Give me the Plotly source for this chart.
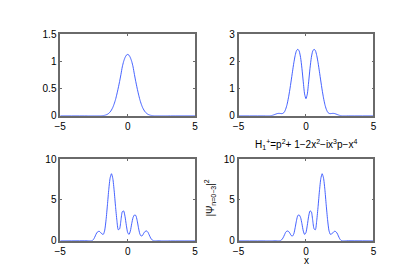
import plotly.graph_objects as go

# sample grid (x) for the four probability densities: -5, then -3.0 .. 3.0 by 0.1, then 5
x_dense = [round(-3.0 + 0.1 * i, 1) for i in range(61)]
x_vals = [-5.0] + x_dense + [5.0]

# |psi_0|^2
psi0 = [0.0,
        0.0, 0.0, 0.0, 0.0, 0.0, 0.0, 0.0, 0.0, 0.0, 0.0,            # -3.0 .. -2.1
        0.0, 0.002, 0.005, 0.009, 0.016, 0.028, 0.046, 0.071, 0.107, 0.155,  # -2.0 .. -1.1
        0.22, 0.3, 0.4, 0.51, 0.63, 0.76, 0.9, 1.0, 1.07, 1.115,   # -1.0 .. -0.1
        1.13,                                                        # 0
        1.115, 1.07, 1.0, 0.9, 0.76, 0.63, 0.51, 0.4, 0.3, 0.22,   # 0.1 .. 1.0
        0.155, 0.107, 0.071, 0.046, 0.028, 0.016, 0.009, 0.005, 0.002, 0.0,  # 1.1 .. 2.0
        0.0, 0.0, 0.0, 0.0, 0.0, 0.0, 0.0, 0.0, 0.0, 0.0,            # 2.1 .. 3.0
        0.0]

# |psi_1|^2
psi1 = [0.0,
        0.0, 0.0, 0.0, 0.0, 0.005, 0.015, 0.03, 0.05, 0.07, 0.085,
        0.09, 0.085, 0.08, 0.09, 0.14, 0.25, 0.42, 0.66, 0.95, 1.28,
        1.62, 1.95, 2.22, 2.4, 2.45, 2.38, 2.15, 1.75, 1.25, 0.8,
        0.63,
        0.8, 1.25, 1.75, 2.15, 2.38, 2.45, 2.4, 2.22, 1.95, 1.62,
        1.28, 0.95, 0.66, 0.42, 0.25, 0.14, 0.09, 0.08, 0.085, 0.09,
        0.085, 0.07, 0.05, 0.03, 0.015, 0.005, 0.0, 0.0, 0.0, 0.0,
        0.0]

# |psi_2|^2
psi2 = [0.0,
        0.02, 0.01, 0.0, 0.0, 0.05, 0.25, 0.6, 0.95, 1.13, 1.15,
        1.0, 0.82, 0.8, 1.3, 2.6, 4.4, 6.3, 7.7, 8.2, 7.6,
        6.1, 4.2, 2.5, 1.35, 1.45, 2.5, 3.55, 3.65, 3.0, 1.9,
        1.0,
        0.78, 1.2, 2.1, 2.85, 3.15, 3.1, 2.5, 1.6, 0.85, 0.58,
        0.65, 0.95, 1.15, 1.2, 1.05, 0.7, 0.35, 0.12, 0.02, 0.0,
        0.0, 0.02, 0.03, 0.02, 0.0, 0.0, 0.0, 0.0, 0.0, 0.0,
        0.0]

# |psi_3|^2
psi3 = [0.0,
        0.0, 0.0, 0.0, 0.0, 0.0, 0.0, 0.02, 0.03, 0.02, 0.0,
        0.0, 0.02, 0.12, 0.35, 0.7, 1.05, 1.2, 1.15, 0.95, 0.65,
        0.58, 0.85, 1.6, 2.5, 3.1, 3.15, 2.85, 2.1, 1.2, 0.78,
        1.0,
        1.9, 3.0, 3.65, 3.55, 2.5, 1.45, 1.35, 2.5, 4.2, 6.1,
        7.6, 8.2, 7.7, 6.3, 4.4, 2.6, 1.3, 0.8, 0.82, 1.0,
        1.15, 1.13, 0.95, 0.6, 0.25, 0.05, 0.0, 0.0, 0.01, 0.02,
        0.0]

series = [psi0, psi1, psi2, psi3]
y_ranges = [[0, 1.5], [0, 3], [0, 10], [0, 10]]
y_ticks = [[0, 0.5, 1, 1.5], [0, 1, 2, 3], [0, 5, 10], [0, 5, 10]]
y_ticklabels = [["0", "0.5", "1", "1.5"], ["0", "1", "2", "3"], ["0", "5", "10"], ["0", "5", "10"]]
x_ticks = [-5, 0, 5]
x_ticklabels = ["−5", "0", "5"]

# page body has an 8px default margin: draw a figure that fits inside it
OFF = 8
W, H = 415 - 2 * OFF, 277 - 2 * OFF
col_px = [(55.3 - OFF, 193.3 - OFF), (237.7 - OFF, 375.7 - OFF)]
row_px = [(29.3 - OFF, 114.7 - OFF), (160 - OFF, 245.7 - OFF)]

fig = go.Figure()
font = dict(family="Liberation Sans, Arial, sans-serif", size=10, color="black")

for i, ys in enumerate(series):
    r, c = divmod(i, 2)
    n = "" if i == 0 else str(i + 1)
    xa, ya = "x" + n, "y" + n
    fig.add_trace(go.Scatter(x=x_vals, y=ys, mode="lines",
                             line=dict(color="#3050ff", width=0.9, shape="spline", smoothing=0.6),
                             xaxis=xa, yaxis=ya, showlegend=False, hoverinfo="skip"))
    x0, x1 = col_px[c]
    t0, t1 = row_px[r]
    common = dict(showline=True, linecolor="#6a6a6a", linewidth=1.5, mirror="ticks",
                  ticks="inside", ticklen=2, tickcolor="#6a6a6a", tickwidth=1, showgrid=False,
                  zeroline=False, tickfont=font)
    fig.layout["xaxis" + n] = dict(domain=[x0 / W, x1 / W], range=[-5, 5], anchor=ya,
                                   tickvals=x_ticks, ticktext=x_ticklabels, **common)
    fig.layout["yaxis" + n] = dict(domain=[1 - t1 / H, 1 - t0 / H], range=y_ranges[i], anchor=xa,
                                   tickvals=y_ticks[i], ticktext=y_ticklabels[i], **common)

fig.add_annotation(x=(307 - OFF) / W, y=1 - (145 - OFF) / H, xref="paper", yref="paper",
                   text="H<sub>1</sub><sup>+</sup>=p<sup>2</sup>+ 1−2x<sup>2</sup>−ix<sup>3</sup>p−x<sup>4</sup>",
                   showarrow=False, font=font, xanchor="center", yanchor="middle")
fig.add_annotation(x=(307 - OFF) / W, y=1 - (266 - OFF) / H, xref="paper", yref="paper", text="x",
                   showarrow=False, font=font, xanchor="center", yanchor="middle")
fig.add_annotation(x=(208 - OFF) / W, y=1 - (201 - OFF) / H, xref="paper", yref="paper",
                   text="|Ψ<sub>n=0−3</sub>|<sup>2</sup>", textangle=-90,
                   showarrow=False, font=font, xanchor="center", yanchor="middle")

fig.update_layout(width=W, height=H, margin=dict(l=0, r=0, t=0, b=0),
                  paper_bgcolor="white", plot_bgcolor="white")
fig.write_html("out.html")
